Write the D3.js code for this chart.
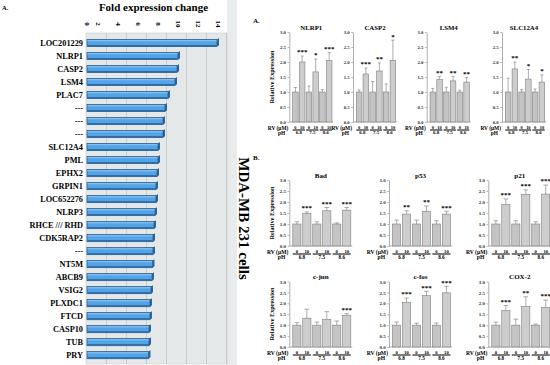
<!DOCTYPE html>
<html><head><meta charset="utf-8">
<script src="https://cdn.jsdelivr.net/npm/d3@7"></script>
<style>
html,body{margin:0;padding:0;background:#fff;}
svg{display:block;}
</style></head><body>
<svg id="c" width="550" height="365"></svg>
<script>
// ---------- data ----------
const foldGenes = ["LOC201229","NLRP1","CASP2","LSM4","PLAC7","---","---","---","SLC12A4","PML","EPHX2","GRPIN1","LOC652276","NLRP3","RHCE /// RHD","CDK5RAP2","---","NT5M","ABCB9","VSIG2","PLXDC1","FTCD","CASP10","TUB","PRY"];
const foldValues = [13.0, 9.1, 9.0, 8.8, 8.1, 7.8, 7.6, 7.6, 7.1, 7.1, 7.0, 6.9, 6.9, 6.8, 6.7, 6.6, 6.6, 6.55, 6.5, 6.4, 6.3, 6.3, 6.2, 6.2, 6.15];
const foldTicks = [0, 2, 4, 6, 8, 10, 12, 14];

const rvLabels = ["0","10","0","10","0","10"];
const phLabels = ["6.8","7.5","8.6"];
const relTicks = [0, 0.5, 1.0, 1.5, 2.0, 2.5, 3.0];

const panelAGenes = ["NLRP1","CASP2","LSM4","SLC12A4"];
const panelBGenes = ["Bad","p53","p21","c-jun","c-fos","COX-2"];

const nlrp1Mean = [1.0, 2.0, 1.0, 1.67, 1.0, 2.05];
const nlrp1Err  = [1.15, 2.2, 1.2, 2.1, 1.08, 2.32];
const nlrp1Sig  = ["","***","","*","","***"];
const casp2Mean = [1.0, 1.6, 1.0, 1.7, 1.0, 2.05];
const casp2Err  = [1.07, 1.8, 1.35, 1.97, 1.27, 2.73];
const casp2Sig  = ["","***","","**","","*"];
const lsm4Mean  = [1.0, 1.42, 1.0, 1.37, 1.0, 1.33];
const lsm4Err   = [1.12, 1.52, 1.16, 1.52, 1.06, 1.48];
const lsm4Sig   = ["","**","","**","","**"];
const slc12a4Mean = [1.0, 1.77, 1.0, 1.43, 1.0, 1.33];
const slc12a4Err  = [1.46, 2.0, 1.08, 1.75, 1.1, 1.57];
const slc12a4Sig  = ["","**","","*","","*"];
const badMean = [1.0, 1.47, 1.0, 1.6, 1.0, 1.63];
const badErr  = [1.1, 1.55, 1.1, 1.75, 1.05, 1.75];
const badSig  = ["","***","","***","","***"];
const p53Mean = [1.0, 1.45, 1.0, 1.58, 1.0, 1.45];
const p53Err  = [1.18, 1.6, 1.18, 1.82, 1.15, 1.58];
const p53Sig  = ["","**","","**","","***"];
const p21Mean = [1.0, 1.88, 1.0, 2.34, 1.0, 2.36];
const p21Err  = [1.15, 2.14, 1.15, 2.55, 1.1, 2.77];
const p21Sig  = ["","***","","***","","***"];
const cjunMean = [1.0, 1.32, 1.0, 1.27, 1.0, 1.45];
const cjunErr  = [1.12, 1.73, 1.14, 1.62, 1.19, 1.53];
const cjunSig  = ["","","","","","***"];
const cfosMean = [1.0, 2.05, 1.0, 2.35, 1.0, 2.48];
const cfosErr  = [1.14, 2.24, 1.09, 2.55, 1.1, 2.78];
const cfosSig  = ["","***","","***","","***"];
const cox2Mean = [1.0, 1.67, 1.0, 1.85, 1.0, 1.82];
const cox2Err  = [1.14, 1.9, 1.28, 2.3, 1.05, 2.15];
const cox2Sig  = ["","***","","**","","***"];

// lookup table built from the arrays above
const table = {
  "NLRP1":[nlrp1Mean,nlrp1Err,nlrp1Sig], "CASP2":[casp2Mean,casp2Err,casp2Sig],
  "LSM4":[lsm4Mean,lsm4Err,lsm4Sig], "SLC12A4":[slc12a4Mean,slc12a4Err,slc12a4Sig],
  "Bad":[badMean,badErr,badSig], "p53":[p53Mean,p53Err,p53Sig], "p21":[p21Mean,p21Err,p21Sig],
  "c-jun":[cjunMean,cjunErr,cjunSig], "c-fos":[cfosMean,cfosErr,cfosSig], "COX-2":[cox2Mean,cox2Err,cox2Sig]
};

// ---------- drawing ----------
const serif = '"Liberation Serif","Times New Roman",Times,serif';
const svg = d3.select("#c").attr("font-family", serif).attr("font-weight", "bold");

// ===== left: fold expression change =====
svg.append("rect").attr("x",227).attr("y",0).attr("width",10).attr("height",365).attr("fill","#e9ecec");
svg.append("text").attr("x",2).attr("y",9.5).attr("font-size",6.5).text("A.");
svg.append("text").attr("x",153.5).attr("y",11).attr("text-anchor","middle").attr("font-size",11).text("Fold expression change");

const xF = d3.scaleLinear().domain([0,14]).range([87,227]);
const yF = d3.scaleBand().domain(d3.range(foldGenes.length)).range([36.2,362]).paddingInner(0.45).paddingOuter(0.25);

svg.append("rect").attr("x",86).attr("y",33).attr("width",141).attr("height",331)
  .attr("fill","#e4e8e8").attr("stroke","#c9cdcd").attr("stroke-width",0.6);
// back-wall grid
svg.append("g").selectAll("line").data(foldTicks.slice(1)).join("line")
  .attr("x1",d=>xF(d)-0.5).attr("x2",d=>xF(d)-0.5).attr("y1",33).attr("y2",364)
  .attr("stroke","#c2c7c7").attr("stroke-width",0.8);
// tick labels (rotated)
svg.append("g").selectAll("text").data(foldTicks).join("text")
  .attr("transform",d=>`translate(${xF(d) - (d ? 9 : 0)},24) rotate(90)`)
  .attr("text-anchor","middle").attr("dominant-baseline","central").attr("font-size",7)
  .text(d=>d);
// gene labels
svg.append("g").selectAll("text").data(foldGenes).join("text")
  .attr("x",83).attr("y",(d,i)=>yF(i)+yF.bandwidth()/2)
  .attr("text-anchor","end").attr("dominant-baseline","central").attr("font-size",8.3)
  .text(d=>d);
// bars
const bw = yF.bandwidth();
const barG = svg.append("g").selectAll("g").data(foldValues).join("g");
barG.append("path")
  .attr("d",(d,i)=>{const x1=xF(d), y0=yF(i); return `M${x1},${y0} L${x1+2},${y0-1.4} L${x1+2},${y0+bw-1.4} L${x1},${y0+bw} Z`;})
  .attr("fill","#2f6699");
barG.append("rect").attr("x",xF(0)).attr("y",(d,i)=>yF(i)).attr("width",d=>xF(d)-xF(0)).attr("height",bw)
  .attr("fill","#53a3e8").attr("stroke","#22507d").attr("stroke-width",0.7);
barG.append("rect").attr("x",xF(0)+0.5).attr("y",(d,i)=>yF(i)+bw-1.6).attr("width",d=>xF(d)-xF(0)-1).attr("height",1.3)
  .attr("fill","#2d6aa3");
barG.append("rect").attr("x",xF(0)+0.5).attr("y",(d,i)=>yF(i)+0.6).attr("width",d=>xF(d)-xF(0)-1).attr("height",1.2)
  .attr("fill","#86c2f2");

// rotated cell-line label
svg.append("text").attr("transform","translate(243.5,218.5) rotate(90)")
  .attr("text-anchor","middle").attr("dominant-baseline","central").attr("font-size",15)
  .text("MDA-MB 231 cells");

// ===== right: small bar charts =====
function drawSub(gene, ax, yTop, yBot, plotW, fs) {
  const [mean, err, sig] = table[gene];
  const g = svg.append("g");
  const y = d3.scaleLinear().domain([0,3]).range([yBot, yTop]);
  const x = d3.scaleBand().domain(d3.range(6)).range([ax+3, ax+plotW-1]).paddingInner(0.18).paddingOuter(0.05);
  const b = x.bandwidth();

  const ga = g.append("g").attr("transform",`translate(${ax},0)`)
    .call(d3.axisLeft(y).tickValues(relTicks).tickFormat(d3.format(".1f")).tickSize(1.8).tickSizeOuter(0).tickPadding(1.5));
  ga.attr("font-family",serif).attr("font-size",fs.tick).attr("font-weight","bold");
  ga.select(".domain").attr("stroke","#8c8c8c").attr("stroke-width",0.7);
  ga.selectAll(".tick line").attr("stroke","#8c8c8c").attr("stroke-width",0.6);
  ga.selectAll(".tick text").attr("fill","#333");

  g.append("line").attr("x1",ax).attr("x2",ax+plotW).attr("y1",yBot).attr("y2",yBot)
    .attr("stroke","#8c8c8c").attr("stroke-width",0.7);

  // error bars
  g.selectAll(".eb").data(err).join("path").attr("class","eb")
    .attr("d",(d,i)=>{const cx=x(i)+b/2, w=b*0.28; return `M${cx},${y(mean[i])} V${y(d)} M${cx-w},${y(d)} H${cx+w}`;})
    .attr("fill","none").attr("stroke","#8a8a8a").attr("stroke-width",0.7);
  // bars
  g.selectAll(".bar").data(mean).join("rect").attr("class","bar")
    .attr("x",(d,i)=>x(i)).attr("y",d=>y(d)).attr("width",b).attr("height",d=>yBot-y(d))
    .attr("fill",(d,i)=> i%2 ? "#cdcdcd" : "#c4c4c4").attr("stroke","#7e7e7e").attr("stroke-width",0.6);
  // significance
  g.selectAll(".sig").data(sig).join("text").attr("class","sig")
    .attr("x",(d,i)=>x(i)+b/2).attr("y",(d,i)=>y(err[i])-1.6)
    .attr("text-anchor","middle").attr("font-size",fs.sig).text(d=>d);
  // title
  g.append("text").attr("x",ax+plotW/2).attr("y",yTop-2.3).attr("text-anchor","middle")
    .attr("font-size",fs.title).text(gene);
  // RV row
  g.append("text").attr("x",ax-1).attr("y",yBot+5.5).attr("text-anchor","end").attr("dominant-baseline","central")
    .attr("font-size",fs.lab).text("RV (\u03bcM)");
  g.selectAll(".rv").data(rvLabels).join("text").attr("class","rv")
    .attr("x",(d,i)=>x(i)+b/2).attr("y",yBot+5.3).attr("text-anchor","middle").attr("dominant-baseline","central")
    .attr("font-size",fs.small).text(d=>d);
  // pH row
  g.selectAll(".phl").data(phLabels).join("line").attr("class","phl")
    .attr("x1",(d,k)=>x(2*k)).attr("x2",(d,k)=>x(2*k+1)+b).attr("y1",yBot+8).attr("y2",yBot+8)
    .attr("stroke","#111").attr("stroke-width",1.1);
  g.append("text").attr("x",ax-4).attr("y",yBot+10.8).attr("text-anchor","end").attr("dominant-baseline","central")
    .attr("font-size",fs.lab).text("pH");
  g.selectAll(".ph").data(phLabels).join("text").attr("class","ph")
    .attr("x",(d,k)=>(x(2*k)+x(2*k+1)+b)/2).attr("y",yBot+10.8).attr("text-anchor","middle").attr("dominant-baseline","central")
    .attr("font-size",fs.ph).text(d=>d);
}

function relLabel(cx, cy) {
  svg.append("text").attr("transform",`translate(${cx},${cy}) rotate(-90)`)
    .attr("text-anchor","middle").attr("dominant-baseline","central").attr("font-size",6.3)
    .text("Relative Expression");
}

// Panel A
svg.append("text").attr("x",253).attr("y",23).attr("font-size",7).text("A.");
const fsA = {tick:4.8, sig:7, title:6.8, lab:5.4, small:4.4, ph:5};
const axA = [289.3, 353, 426.7, 502];
panelAGenes.forEach((gname,i)=>drawSub(gname, axA[i], 32, 122, 44, fsA));
relLabel(271.7, 77);

// Panel B
svg.append("text").attr("x",253).attr("y",159.5).attr("font-size",7).text("B.");
const fsB = {tick:5, sig:7, title:7, lab:5.6, small:4.6, ph:5.2};
const axB = [289.3, 389, 488.3];
const rowB = [[180, 246],[281.5, 347]];
panelBGenes.forEach((gname,i)=>{
  const r = rowB[Math.floor(i/3)];
  drawSub(gname, axB[i%3], r[0], r[1], 63, fsB);
});
relLabel(271.7, 213);
relLabel(271.7, 314);
</script>
</body></html>
